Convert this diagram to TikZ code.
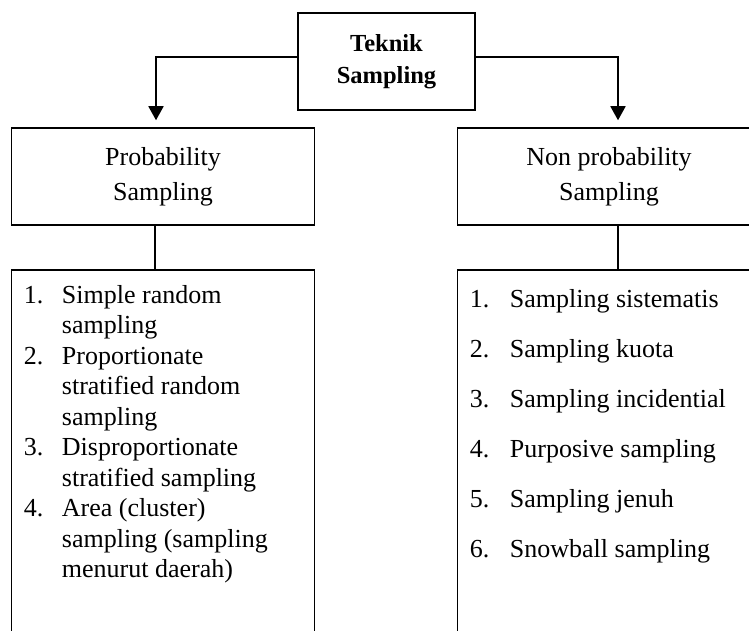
\documentclass[tikz,border=0pt]{standalone}
\usepackage{fontspec}
\setmainfont{Liberation Serif}
\usetikzlibrary{arrows.meta, positioning}

\begin{document}
\begin{tikzpicture}[x=1pt, y=1pt,
  titlebox/.style={draw, line width=2.2pt, minimum width=177pt, minimum height=97pt, align=center, font=\fontsize{24.5}{32}\selectfont\bfseries},
  catbox/.style={draw, line width=1.5pt, minimum width=303pt, minimum height=97pt, align=center, font=\fontsize{26}{35}\selectfont},
  listbox/.style={draw, line width=1.5pt, minimum width=303pt, minimum height=380pt},
  listtext/.style={anchor=base west, inner sep=0pt, font=\fontsize{26}{#1}\selectfont},
  listtext/.default=30.5,
  conn/.style={line width=1.8pt, -{Triangle[width=15pt,length=14pt]}, shorten >=7pt},
  link/.style={line width=1.5pt}
]
  \useasboundingbox (0,0) rectangle (749,-631);
  \clip (0,0) rectangle (749,-631);

  % boxes
  \node[titlebox] (teknik) at (386.5,-61.5) {Teknik\\Sampling};
  \node[catbox] (prob) at (163,-176.5) {Probability\\Sampling};
  \node[catbox] (nonprob) at (609,-176.5) {Non probability\\Sampling};
  \node[listbox] (problist) at (163,-460) {};
  \node[listbox] (nonlist) at (609,-460) {};

  % list items
  \node[listtext=30.5] (probitems) at ([xshift=13pt,yshift=-34pt]problist.north west) {%
    \begin{tabular}[t]{@{}p{38pt}@{}l@{}}
      1. & Simple random\\
         & sampling\\
      2. & Proportionate\\
         & stratified random\\
         & sampling\\
      3. & Disproportionate\\
         & stratified sampling\\
      4. & Area (cluster)\\
         & sampling (sampling\\
         & menurut daerah)
    \end{tabular}};
  \node[listtext=50] (nonitems) at ([xshift=13pt,yshift=-38pt]nonlist.north west) {%
    \begin{tabular}[t]{@{}p{40pt}@{}l@{}}
      1. & Sampling sistematis\\
      2. & Sampling kuota\\
      3. & Sampling incidential\\
      4. & Purposive sampling\\
      5. & Sampling jenuh\\
      6. & Snowball sampling
    \end{tabular}};

  % connectors
  \draw[conn] ([yshift=4.5pt]teknik.west) -| ([xshift=-7pt]prob.north);
  \draw[conn] ([yshift=4.5pt]teknik.east) -| ([xshift=9pt]nonprob.north);
  \draw[link] ([xshift=-8pt]prob.south) -- ([xshift=-8pt]problist.north);
  \draw[link] ([xshift=9pt]nonprob.south) -- ([xshift=9pt]nonlist.north);
\end{tikzpicture}
\end{document}
